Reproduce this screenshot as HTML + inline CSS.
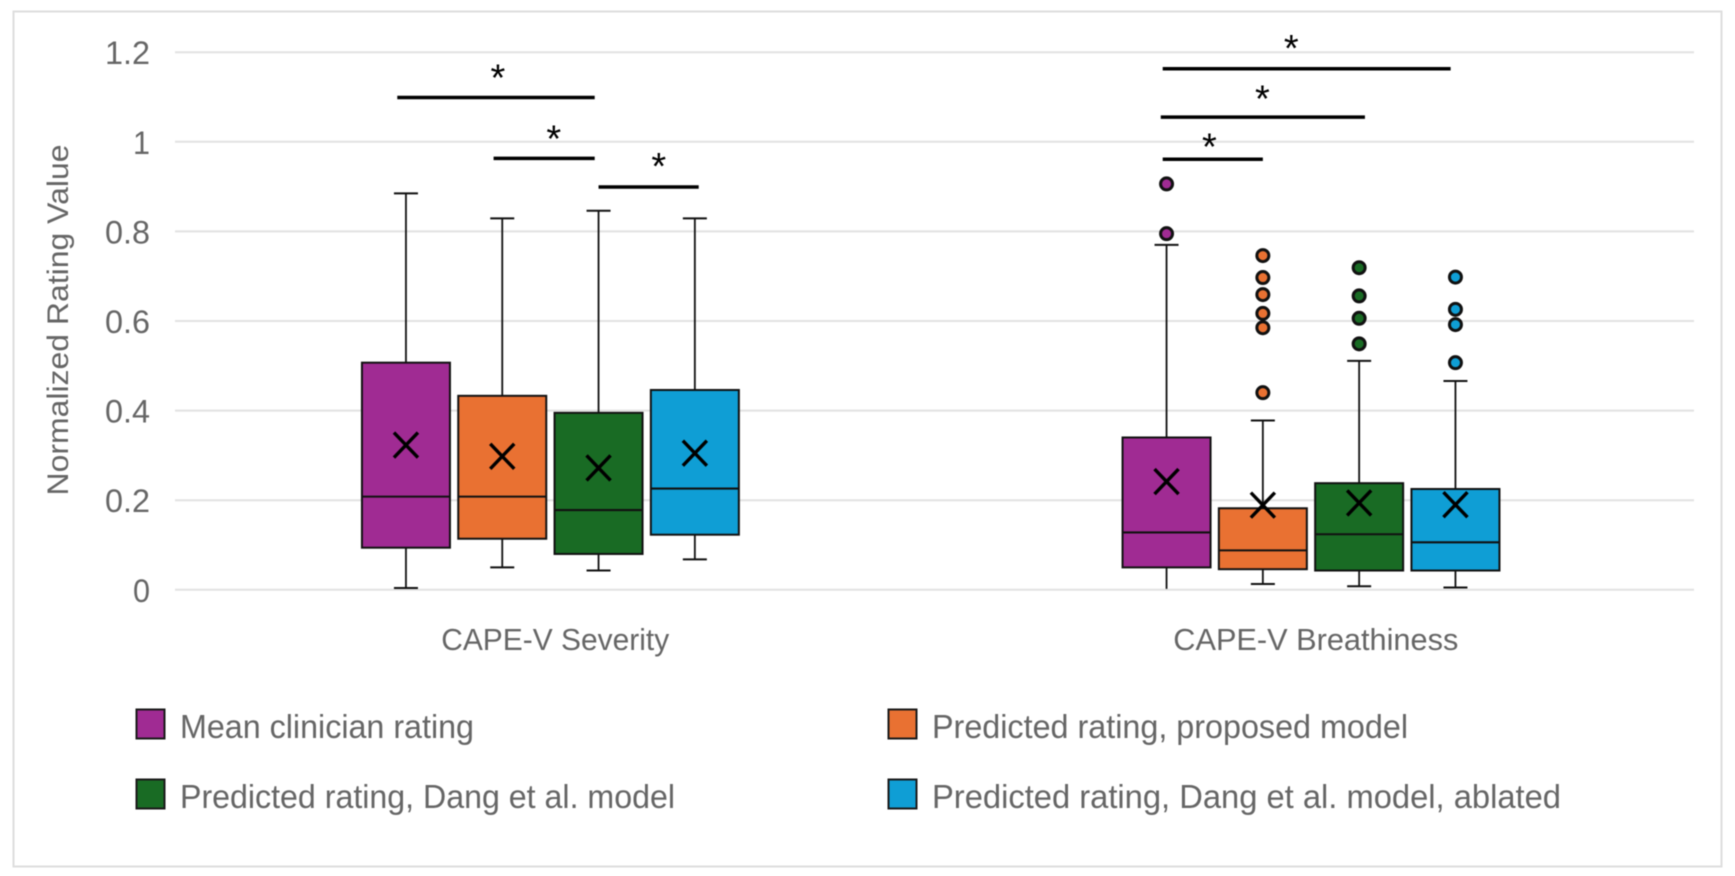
<!DOCTYPE html>
<html lang="en">
<head>
<meta charset="utf-8">
<title>Normalized rating box plots</title>
<style>
html,body{margin:0;padding:0;background:#fff;width:1735px;height:876px;overflow:hidden}
svg{display:block;filter:blur(0.55px)}
text{font-family:"Liberation Sans",sans-serif;fill:#666}
</style>
</head>
<body>
<svg id="chart" width="1735" height="876" viewBox="0 0 1735 876" xmlns="http://www.w3.org/2000/svg">
  <rect x="13.5" y="11.5" width="1708" height="855" fill="#fff" stroke="#dedede" stroke-width="2"/>
  <g id="grid"></g>
  <g id="ticks"></g>
  <text transform="translate(68,320) rotate(-90)" text-anchor="middle" font-size="30" textLength="351" lengthAdjust="spacingAndGlyphs">Normalized Rating Value</text>
  <g id="cats"></g>
  <g id="marks"></g>
  <g id="sig"></g>

  <g>
    <g>
      <rect x="136.5" y="709.5" width="28" height="29" fill="#A02B93" stroke="#1a1a1a" stroke-width="2"/>
      <text x="180" y="738" font-size="33" textLength="294" lengthAdjust="spacingAndGlyphs">Mean clinician rating</text>
    </g>
    <g>
      <rect x="888.5" y="709.5" width="28" height="29" fill="#E97132" stroke="#1a1a1a" stroke-width="2"/>
      <text x="932" y="738" font-size="33" textLength="476" lengthAdjust="spacingAndGlyphs">Predicted rating, proposed model</text>
    </g>
    <g>
      <rect x="136.5" y="779.5" width="28" height="29" fill="#196B24" stroke="#1a1a1a" stroke-width="2"/>
      <text x="180" y="808" font-size="33" textLength="495" lengthAdjust="spacingAndGlyphs">Predicted rating, Dang et al. model</text>
    </g>
    <g>
      <rect x="888.5" y="779.5" width="28" height="29" fill="#0F9ED5" stroke="#1a1a1a" stroke-width="2"/>
      <text x="932" y="808" font-size="33" textLength="629" lengthAdjust="spacingAndGlyphs">Predicted rating, Dang et al. model, ablated</text>
    </g>
  </g>
</svg>
<script>
// ---- chart data (rows: category; columns: series) ----
const categories = ["CAPE-V Severity", "CAPE-V Breathiness"];
const seriesNames = ["mean-clinician", "proposed-model", "dang-model", "dang-ablated"];
const whiskerHigh = [[0.885, 0.829, 0.846, 0.829], [0.770, 0.378, 0.511, 0.466]];
const quartile3 = [[0.507, 0.433, 0.395, 0.446], [0.340, 0.182, 0.238, 0.225]];
const medians = [[0.208, 0.208, 0.178, 0.226], [0.128, 0.088, 0.124, 0.106]];
const quartile1 = [[0.094, 0.114, 0.080, 0.123], [0.050, 0.046, 0.043, 0.043]];
const whiskerLow = [[0.004, 0.050, 0.043, 0.068], [0.002, 0.013, 0.008, 0.005]];
const means = [[0.323, 0.298, 0.272, 0.305], [0.2415, 0.189, 0.194, 0.190]];
const outliers = [
  [[], [], [], []],
  [[0.906, 0.795],
   [0.746, 0.697, 0.659, 0.617, 0.585, 0.440],
   [0.719, 0.656, 0.606, 0.549],
   [0.698, 0.626, 0.592, 0.507]]
];
const yTicks = [0, 0.2, 0.4, 0.6, 0.8, 1, 1.2];
// significance brackets: category, from-slot, to-slot, level on the value axis, star slot, star level
const sigCategory = [0, 0, 0, 1, 1, 1];
const sigFrom = [-0.09, 0.91, 2.0, -0.04, -0.06, -0.04];
const sigTo = [1.96, 1.96, 3.04, 2.95, 2.06, 1.00];
const sigLevel = [1.099, 0.963, 0.899, 1.163, 1.055, 0.961];
const sigStarSlot = [0.955, 1.535, 2.625, 1.295, 0.995, 0.445];
const sigStarLevel = [1.152, 1.016, 0.955, 1.218, 1.106, 0.998];

// ---- styles ----
const seriesColors = ["#A02B93", "#E97132", "#196B24", "#0F9ED5"];

// ---- axis functions ----
const plotLeft = 175, plotRight = 1694, plotBottom = 589.8, pxPerUnit = 448;
const y = v => plotBottom - v * pxPerUnit;
const x = (cat, slot) => 550.4 + 760.6 * cat + (slot - 1.5) * 96.3;

const NS = "http://www.w3.org/2000/svg";
function mk(parent, tag, attrs) {
  const el = document.createElementNS(NS, tag);
  for (const k in attrs) el.setAttribute(k, attrs[k]);
  parent.appendChild(el);
  return el;
}
const gridG = document.getElementById("grid");
const ticksG = document.getElementById("ticks");
const catsG = document.getElementById("cats");
const marksG = document.getElementById("marks");
const sigG = document.getElementById("sig");

yTicks.forEach(t => {
  const line = mk(gridG, "line", {x1: plotLeft, x2: plotRight, y1: y(t), y2: y(t), stroke: "#e2e2e2", "stroke-width": 2});
  
  
  const label = mk(ticksG, "text", {x: 150, y: y(t) + 12, "text-anchor": "end", "font-size": 32});
  label.textContent = String(t);
  label.setAttribute("textLength", String(t).length > 1 ? 45 : 17);
  label.setAttribute("lengthAdjust", "spacingAndGlyphs");
  
  
});

const catWidths = [228, 285];
categories.forEach((c, i) => {
  const cx = x(i, 1.5) + 4.8;
  const label = mk(catsG, "text", {x: cx, y: 650, "text-anchor": "middle", "font-size": 31, textLength: catWidths[i], lengthAdjust: "spacingAndGlyphs"});
  label.textContent = c;
  
  
});

const halfBox = 44, halfCap = 12;
categories.forEach((c, ci) => {
  seriesNames.forEach((name, si) => {
    const cx = x(ci, si);
    const g = mk(marksG, "g", {});
    
    

    const whisker = mk(g, "line", {x1: cx, x2: cx, y1: y(whiskerHigh[ci][si]), y2: y(whiskerLow[ci][si]), stroke: "#111", "stroke-width": 1.8});
    
    

    [whiskerHigh[ci][si], whiskerLow[ci][si]].forEach(v => {
      if (v < 0.003) return; // cap merges with the axis line in the reference
      const cap = mk(g, "line", {x1: cx - halfCap, x2: cx + halfCap, y1: y(v), y2: y(v), stroke: "#111", "stroke-width": 2});
      
      
    });

    const box = mk(g, "rect", {x: cx - halfBox, width: 2 * halfBox, y: y(quartile3[ci][si]), height: y(quartile1[ci][si]) - y(quartile3[ci][si]), fill: seriesColors[si], stroke: "#111", "stroke-width": 2});
    
    

    const med = mk(g, "line", {x1: cx - halfBox, x2: cx + halfBox, y1: y(medians[ci][si]), y2: y(medians[ci][si]), stroke: "#111", "stroke-width": 2.1});
    
    

    const my = y(means[ci][si]);
    const meanMark = mk(g, "path", {d: `M${cx - 12} ${my - 12.5}L${cx + 12} ${my + 12.5}M${cx - 12} ${my + 12.5}L${cx + 12} ${my - 12.5}`, stroke: "#000", "stroke-width": 3.4, fill: "none"});
    
    

    outliers[ci][si].forEach(v => {
      const pt = mk(g, "circle", {cx: cx, cy: y(v), r: 6, fill: seriesColors[si], stroke: "#111", "stroke-width": 3});
      
      
    });
  });
});

sigLevel.forEach((lvl, i) => {
  const c = sigCategory[i];
  const bar = mk(sigG, "line", {x1: x(c, sigFrom[i]), x2: x(c, sigTo[i]), y1: y(lvl), y2: y(lvl), stroke: "#000", "stroke-width": 3.5});
  
  
  const star = mk(sigG, "text", {x: x(c, sigStarSlot[i]), y: y(sigStarLevel[i]) + 17, "text-anchor": "middle", "font-size": 38});
  star.textContent = "*";
  star.style.fill = "#000";
  
  
});
</script>
</body>
</html>
